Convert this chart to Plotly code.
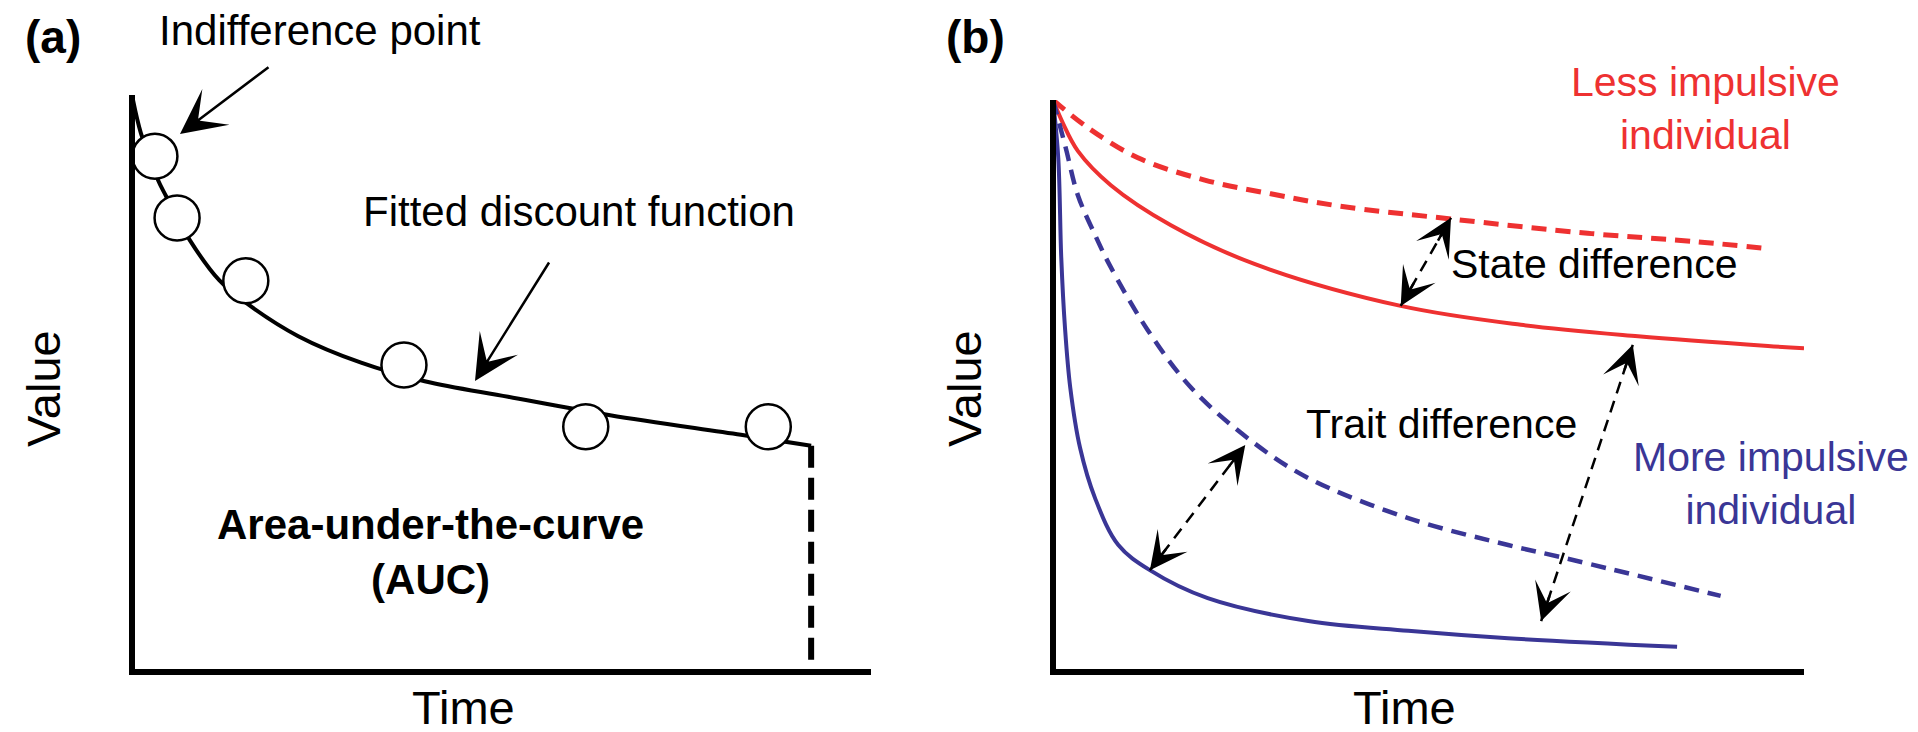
import math
import plotly.graph_objects as go

W, H = 1918, 732

# ---------------- data: panel (a) ----------------
curve_a_time = [0, 1.2, 3.5, 4.6, 7.8, 11.8, 15.4, 22.5, 31.0, 39.6, 50.9, 64.7, 82.4, 91.9]
curve_a_value = [100, 93.4, 85.3, 82.5, 74.9, 67.9, 64.0, 58.2, 53.6, 50.4, 47.7, 44.5, 41.1, 39.2]
points_a_time = [3.1, 6.1, 15.4, 36.8, 61.4, 86.1]
points_a_value = [89.4, 78.7, 67.8, 53.2, 42.5, 42.5]

# ---------------- data: panel (b) ----------------
less_state_time = [0, 4.7, 11.3, 20.2, 29.0, 37.9, 53.0, 71.2, 85.9, 95.2]
less_state_value = [100, 95.1, 89.9, 86.0, 83.6, 81.5, 79.2, 76.7, 75.2, 74.0]
less_trait_time = [0, 1.3, 3.3, 7.7, 15.7, 26.9, 46.3, 62.3, 77.9, 95.2, 100.0]
less_trait_value = [100, 96.0, 91.1, 85.1, 78.1, 71.3, 64.0, 60.7, 58.7, 57.0, 56.6]
more_state_time = [0, 1.7, 3.3, 5.6, 7.6, 12.6, 18.4, 26.4, 34.0, 47.3, 60.6, 68.2, 88.9]
more_state_value = [100, 91.6, 83.4, 76.4, 71.0, 59.8, 49.7, 40.4, 33.9, 26.9, 22.2, 19.9, 13.3]
more_trait_time = [0, 0.7, 1.1, 1.6, 2.3, 3.6, 5.6, 8.7, 12.9, 20.6, 34.0, 47.3, 60.6, 83.1]
more_trait_value = [100, 89.9, 72.4, 60.1, 49.7, 39.2, 30.4, 22.2, 17.8, 12.9, 8.9, 7.2, 5.9, 4.4]

# double-headed difference arrows (end points, time / value)
state_arrow_time = [46.3, 53.0]
state_arrow_value = [64.0, 79.4]
trait_arrow_time = [12.9, 25.6]
trait_arrow_value = [17.8, 39.7]
trait_arrow2_time = [65.0, 77.2]
trait_arrow2_value = [8.9, 57.2]

# ---------------- styles / layout geometry ----------------
RED = "#EE3131"
BLUE = "#3A3696"
FONT = "Liberation Sans, Arial, Helvetica, sans-serif"

# axis line centres in page pixels
A_L, A_R, A_T, A_B = 124, 863, 87, 664
B_L, B_R, B_T, B_B = 1045, 1796, 92, 664
LW = 6
ax_sx = (A_R - A_L) / 100.0
ax_sy = (A_B - A_T) / 100.0
bx_sx = (B_R - B_L) / 100.0
bx_sy = (B_B - B_T) / 100.0

fig = go.Figure()

# ---- panel (a) ----
fig.add_trace(go.Scatter(x=curve_a_time, y=curve_a_value, mode="lines",
                         line=dict(color="black", width=4, shape="spline", smoothing=1.0),
                         xaxis="x", yaxis="y", hoverinfo="skip"))
fig.add_trace(go.Scatter(x=[curve_a_time[-1], curve_a_time[-1]], y=[curve_a_value[-1], 0],
                         mode="lines", line=dict(color="black", width=6, dash="22px,10px"),
                         xaxis="x", yaxis="y", hoverinfo="skip"))
fig.add_trace(go.Scatter(x=points_a_time, y=points_a_value, mode="markers",
                         marker=dict(size=45, color="white", line=dict(color="black", width=2.5)),
                         cliponaxis=False, xaxis="x", yaxis="y", hoverinfo="skip"))

# ---- panel (b) ----
fig.add_trace(go.Scatter(x=less_state_time, y=less_state_value, mode="lines",
                         line=dict(color=RED, width=5, dash="15px,9px", shape="spline", smoothing=1.0),
                         xaxis="x2", yaxis="y2", hoverinfo="skip"))
fig.add_trace(go.Scatter(x=less_trait_time, y=less_trait_value, mode="lines",
                         line=dict(color=RED, width=4, shape="spline", smoothing=1.0),
                         xaxis="x2", yaxis="y2", hoverinfo="skip"))
fig.add_trace(go.Scatter(x=more_state_time, y=more_state_value, mode="lines",
                         line=dict(color=BLUE, width=4.5, dash="15px,9px", shape="spline", smoothing=1.0),
                         xaxis="x2", yaxis="y2", hoverinfo="skip"))
fig.add_trace(go.Scatter(x=more_trait_time, y=more_trait_value, mode="lines",
                         line=dict(color=BLUE, width=4, shape="spline", smoothing=1.0),
                         xaxis="x2", yaxis="y2", hoverinfo="skip"))

annotations = []


def arrow_heads(tx, ty):
    """dashed shaft + an arrow head at both ends"""
    fig.add_trace(go.Scatter(x=tx, y=ty, mode="lines",
                             line=dict(color="black", width=2.5, dash="12px,8px"),
                             xaxis="x2", yaxis="y2", hoverinfo="skip"))
    for i, j in ((0, 1), (1, 0)):
        dx = (tx[j] - tx[i]) * bx_sx
        dy = -(ty[j] - ty[i]) * bx_sy
        n = math.hypot(dx, dy)
        L = 28
        annotations.append(dict(x=tx[i], y=ty[i], xref="x2", yref="y2", text="",
                                showarrow=True, ax=dx / n * L, ay=dy / n * L,
                                arrowhead=3, arrowsize=2.5, arrowwidth=2.5,
                                arrowcolor="black", standoff=0))


arrow_heads(state_arrow_time, state_arrow_value)
arrow_heads(trait_arrow_time, trait_arrow_value)
arrow_heads(trait_arrow2_time, trait_arrow2_value)


def px(x, y):
    return x / W, 1 - y / H


def label(text, x, y, size, color="black", bold=False, angle=0):
    xx, yy = px(x, y)
    if bold:
        text = "<b>" + text + "</b>"
    annotations.append(dict(x=xx, y=yy, xref="paper", yref="paper", text=text,
                            showarrow=False, xanchor="center", yanchor="middle",
                            textangle=angle, align="center",
                            font=dict(family=FONT, size=size, color=color)))


def pointer(tip_x, tip_y, tail_x, tail_y):
    xx, yy = px(tip_x, tip_y)
    annotations.append(dict(x=xx, y=yy, xref="paper", yref="paper", text="",
                            showarrow=True, ax=tail_x - tip_x, ay=tail_y - tip_y,
                            arrowhead=3, arrowsize=3.0, arrowwidth=2.5,
                            arrowcolor="black", standoff=0))


label("(a)", 45, 29, 46, bold=True)
label("(b)", 967, 29, 46, bold=True)
label("Indifference point", 312, 23, 42)
label("Fitted discount function", 571, 204, 42)
label("Area-under-the-curve<br>(AUC)", 422, 544, 42, bold=True)
label("Value", 35, 381, 47, angle=-90)
label("Time", 455, 699, 47)
label("Value", 956, 381, 47, angle=-90)
label("Time", 1396, 699, 47)
label("Less impulsive<br>individual", 1697, 100, 41, color=RED)
label("State difference", 1586, 256, 41)
label("Trait difference", 1433, 416, 41)
label("More impulsive<br>individual", 1763, 476, 41, color=BLUE)

pointer(172, 126, 262, 58)
pointer(467, 373, 542, 253)


def axis_common():
    return dict(showline=True, linewidth=LW, linecolor="black", showticklabels=False,
                ticks="", showgrid=False, zeroline=False, mirror=False, fixedrange=True)


half = LW / 2.0
fig.update_layout(
    width=W, height=H, autosize=False,
    margin=dict(l=0, r=0, t=0, b=0),
    paper_bgcolor="white", plot_bgcolor="white",
    showlegend=False,
    xaxis=dict(domain=[(A_L + half) / W, A_R / W], range=[half / ax_sx, 100], anchor="y", **axis_common()),
    yaxis=dict(domain=[1 - (A_B - half) / H, 1 - A_T / H], range=[half / ax_sy, 100], anchor="x", **axis_common()),
    xaxis2=dict(domain=[(B_L + half) / W, B_R / W], range=[half / bx_sx, 100], anchor="y2", **axis_common()),
    yaxis2=dict(domain=[1 - (B_B - half) / H, 1 - B_T / H], range=[half / bx_sy, 100], anchor="x2", **axis_common()),
    annotations=annotations,
)

fig.write_html("out.html")
